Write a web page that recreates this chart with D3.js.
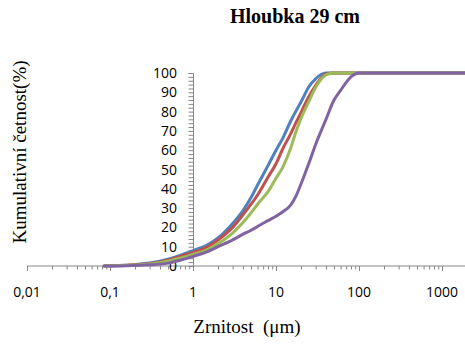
<!DOCTYPE html>
<html><head><meta charset="utf-8">
<script src="https://cdn.jsdelivr.net/npm/d3@7"></script>
<style>body{margin:0;background:#fff}svg{display:block}</style>
</head><body>
<svg id="c" width="465" height="345"></svg>
<script>
const sizes = [0.085, 0.1, 0.2, 0.3, 0.5, 0.7, 1, 1.5, 2, 3, 4, 5, 6, 8, 10, 12, 15, 17.5, 20, 25, 30, 40, 50, 60, 80, 100, 200, 500, 1000, 2000];
const blue   = [0, 0.1, 0.7, 1.5, 3.5, 5.5, 8, 11, 14.5, 22, 28.7, 35.5, 42, 52, 60, 66, 75, 80.5, 85, 93, 97, 100, 100, 100, 100, 100, 100, 100, 100, 100];
const red    = [0, 0.1, 0.6, 1.3, 3, 5, 7, 10, 13.5, 20, 26.5, 32, 36.8, 46, 53, 60.5, 68.5, 74.5, 79.5, 88, 93.5, 99.5, 100, 100, 100, 100, 100, 100, 100, 100];
const green  = [0, 0.1, 0.5, 1, 2.5, 4, 6, 8.5, 11.5, 17, 22.5, 27.5, 32, 38.5, 45.5, 51, 61, 70, 76.5, 85.5, 92.5, 99, 100, 100, 100, 100, 100, 100, 100, 100];
const purple = [0, 0, 0.3, 0.6, 1.5, 3, 5, 7.5, 10, 13.5, 16.5, 18.5, 20.5, 23.5, 25.8, 28, 31.5, 36.5, 42.5, 53.5, 63, 76, 86, 91, 98, 100, 100, 100, 100, 100];
const seriesNames = ["blue", "red", "green", "purple"];
const seriesColors = ["#4F81BD", "#C0504D", "#9BBB59", "#8064A2"];
const xTickValues = [0.01, 0.1, 1, 10, 100, 1000];
const xTickLabels = ["0,01", "0,1", "1", "10", "100", "1000"];
const yTickValues = [0, 10, 20, 30, 40, 50, 60, 70, 80, 90, 100];
const title = "Hloubka 29 cm";
const xTitle = "Zrnitost  (\u03bcm)";
const yTitle = "Kumulativní četnost(%)";

const svg = d3.select("#c");
const x = d3.scaleLog().domain([0.01, 2000]).range([27, 467]);
const y = d3.scaleLinear().domain([0, 100]).range([266, 73]);
const axisColor = "#868686";
const labelFont = "'Open Sans', sans-serif";
const serif = "'Liberation Serif', 'Times New Roman', serif";

// x axis
const minorX = [];
for (let e = -2; e <= 3; e++) for (let k = 2; k <= 9; k++) minorX.push(k * Math.pow(10, e));
const gx = svg.append("g").attr("transform", `translate(0,${y(0)})`);
gx.call(d3.axisBottom(x).tickValues(minorX).tickSize(3.5).tickFormat(""))
  .call(g => g.select(".domain").remove());
gx.append("g").call(d3.axisBottom(x).tickValues(xTickValues).tickSize(5).tickFormat(""))
  .call(g => g.select(".domain").remove());
gx.append("line").attr("x1", x(0.01)).attr("x2", 465).attr("stroke", axisColor).attr("stroke-width", 1);
gx.selectAll(".tick line").attr("stroke", axisColor);
svg.append("g").selectAll("text").data(xTickValues).join("text")
  .attr("x", d => x(d)).attr("y", 297)
  .attr("text-anchor", "middle").attr("font-family", labelFont).attr("font-size", 14).attr("fill", "#000")
  .text((d, i) => xTickLabels[i]);

// y axis
const gy = svg.append("g").attr("transform", `translate(${x(1)},0)`);
gy.call(d3.axisLeft(y).tickValues(d3.range(0, 101, 2)).tickSize(4.5).tickFormat(""));
gy.select(".domain").attr("stroke", axisColor);
gy.selectAll(".tick line").attr("stroke", axisColor);
svg.append("g").selectAll("text").data(yTickValues).join("text")
  .attr("x", 177).attr("y", d => y(d)).attr("dy", "0.36em")
  .attr("text-anchor", "end").attr("font-family", labelFont).attr("font-size", 14).attr("fill", "#000")
  .text(d => d);

// lines
const seriesData = [blue, red, green, purple];
const line = d3.line().x((d, i) => x(sizes[i])).y(d => y(d)).curve(d3.curveMonotoneX);
svg.append("g").selectAll("path").data(seriesData).join("path")
  .attr("d", d => line(d))
  .attr("fill", "none").attr("stroke", (d, i) => seriesColors[i])
  .attr("stroke-width", 3).attr("stroke-linejoin", "round").attr("stroke-linecap", "round");

// titles
svg.append("text").attr("x", 295).attr("y", 23).attr("text-anchor", "middle")
  .attr("font-family", serif).attr("font-weight", "bold").attr("font-size", 20).text(title);
svg.append("text").attr("x", 247).attr("y", 333).attr("text-anchor", "middle")
  .attr("font-family", serif).attr("font-size", 19).style("white-space", "pre").text(xTitle);
svg.append("text").attr("transform", "translate(26,152) rotate(-90)").attr("text-anchor", "middle")
  .attr("font-family", serif).attr("font-size", 19).text(yTitle);
</script>
</body></html>
